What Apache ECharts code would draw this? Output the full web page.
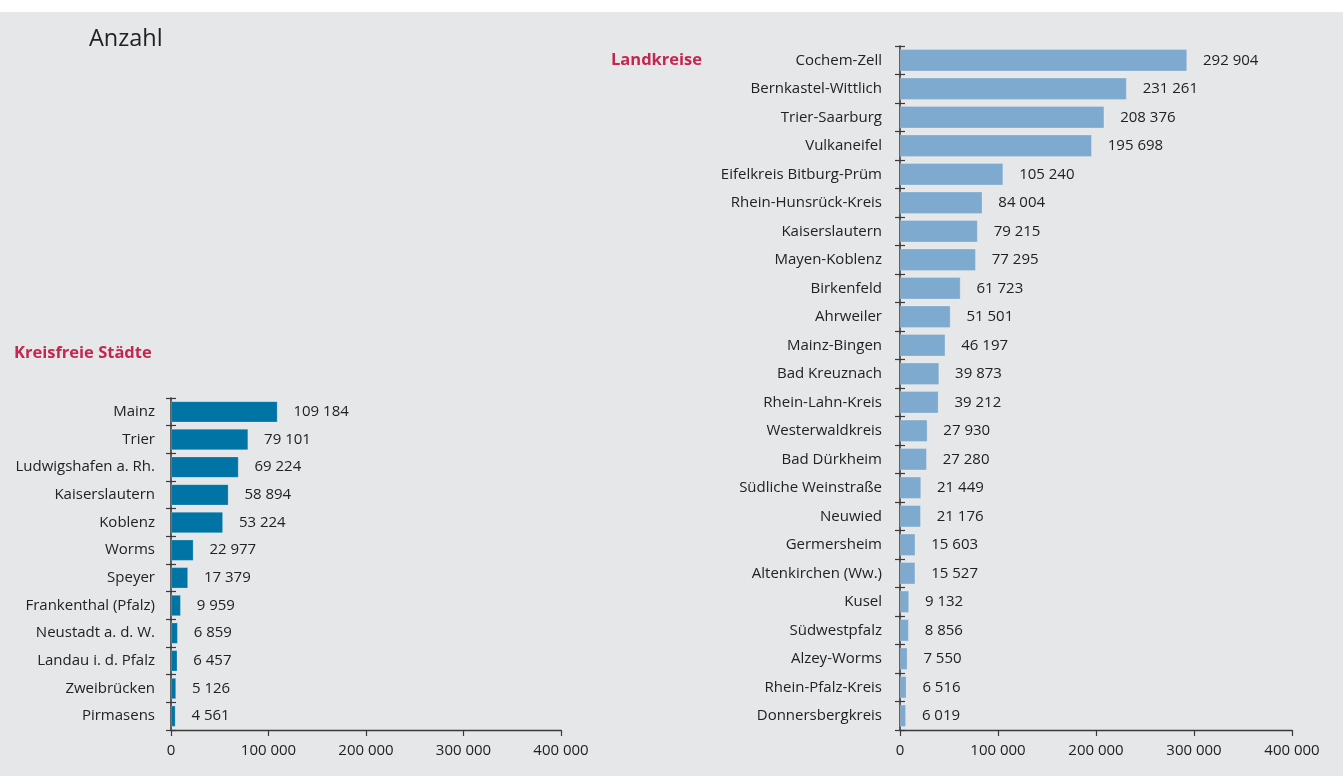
<!DOCTYPE html>
<html><head><meta charset="utf-8">
<script src="https://cdn.jsdelivr.net/npm/echarts@6/dist/echarts.min.js"></script>
<style>html,body{margin:0;padding:0;background:#fff}#c{width:1343px;height:776px}</style>
</head><body><div id="c"></div>
<script>
const cityNames = ["Mainz","Trier","Ludwigshafen a. Rh.","Kaiserslautern","Koblenz","Worms","Speyer","Frankenthal (Pfalz)","Neustadt a. d. W.","Landau i. d. Pfalz","Zweibrücken","Pirmasens"];
const cityValues = [109184,79101,69224,58894,53224,22977,17379,9959,6859,6457,5126,4561];
const districtNames = ["Cochem-Zell","Bernkastel-Wittlich","Trier-Saarburg","Vulkaneifel","Eifelkreis Bitburg-Prüm","Rhein-Hunsrück-Kreis","Kaiserslautern","Mayen-Koblenz","Birkenfeld","Ahrweiler","Mainz-Bingen","Bad Kreuznach","Rhein-Lahn-Kreis","Westerwaldkreis","Bad Dürkheim","Südliche Weinstraße","Neuwied","Germersheim","Altenkirchen (Ww.)","Kusel","Südwestpfalz","Alzey-Worms","Rhein-Pfalz-Kreis","Donnersbergkreis"];
const districtValues = [292904,231261,208376,195698,105240,84004,79215,77295,61723,51501,46197,39873,39212,27930,27280,21449,21176,15603,15527,9132,8856,7550,6516,6019];
const xTicks = [0,100000,200000,300000,400000];

const FONT = '"Open Sans", "Noto Sans", sans-serif';
const TXT = '#222';
const FS = 15;
const fmt = v => String(v).replace(/\B(?=(\d{3})+(?!\d))/g, ' ');

function xAxis(gi){
  return {type:'value', gridIndex:gi, min:xTicks[0], max:xTicks[xTicks.length-1], interval:xTicks[1]-xTicks[0],
    splitLine:{show:false},
    axisLine:{show:true, lineStyle:{color:'#3a3a3a', width:1.4}},
    axisTick:{show:true, length:6, lineStyle:{color:'#3a3a3a', width:1.2}},
    axisLabel:{fontFamily:FONT, fontSize:FS, color:TXT, margin:13, formatter:fmt}};
}
function yAxes(gi, names, margin){
  return [
    {type:'category', gridIndex:gi, position:'left', data:names, inverse:true,
      axisLine:{show:true, lineStyle:{color:'#3a3a3a', width:1.6}},
      axisTick:{show:true, length:5, lineStyle:{color:'#3a3a3a', width:1.2}},
      axisLabel:{fontFamily:FONT, fontSize:FS, color:TXT, margin:margin}},
    {type:'category', gridIndex:gi, position:'left', data:names, inverse:true,
      axisLine:{show:false}, axisLabel:{show:false},
      axisTick:{show:true, inside:true, length:5, lineStyle:{color:'#3a3a3a', width:1.2}}}
  ];
}
function barSeries(xi, yi, vals, color, bw){
  return {type:'bar', xAxisIndex:xi, yAxisIndex:yi, data:vals, barWidth:bw,
    itemStyle:{color:color, borderColor:'rgba(255,255,255,0.35)', borderWidth:0.6},
    label:{show:true, position:'right', distance:16, fontFamily:FONT, fontSize:FS, color:TXT, formatter:p=>fmt(p.value)},
    silent:true, animation:false};
}

const chart = echarts.init(document.getElementById('c'), null, {renderer:'canvas'});
chart.setOption({
  animation:false,
  backgroundColor:'#fff',
  graphic:[
    {type:'rect', left:0, top:12, shape:{width:1343, height:764}, style:{fill:'#e6e7e9'}, z:-10},
    {type:'text', left:89, top:27, style:{text:'Anzahl', font:'23.5px '+FONT, fill:TXT}},
    {type:'text', left:14, top:345, style:{text:'Kreisfreie Städte', font:'bold 16.5px '+FONT, fill:'#c4264f'}},
    {type:'text', left:611, top:52, style:{text:'Landkreise', font:'bold 16.5px '+FONT, fill:'#c4264f'}}
  ],
  grid:[
    {left:171, top:398, width:390, height:332, containLabel:false},
    {left:900, top:46, width:392, height:684, containLabel:false}
  ],
  xAxis:[xAxis(0), xAxis(1)],
  yAxis:[...yAxes(0, cityNames, 16), ...yAxes(1, districtNames, 18)],
  series:[
    barSeries(0, 0, cityValues, '#0074a4', 21),
    barSeries(1, 2, districtValues, '#7eaacf', 22)
  ]
});
</script></body></html>
